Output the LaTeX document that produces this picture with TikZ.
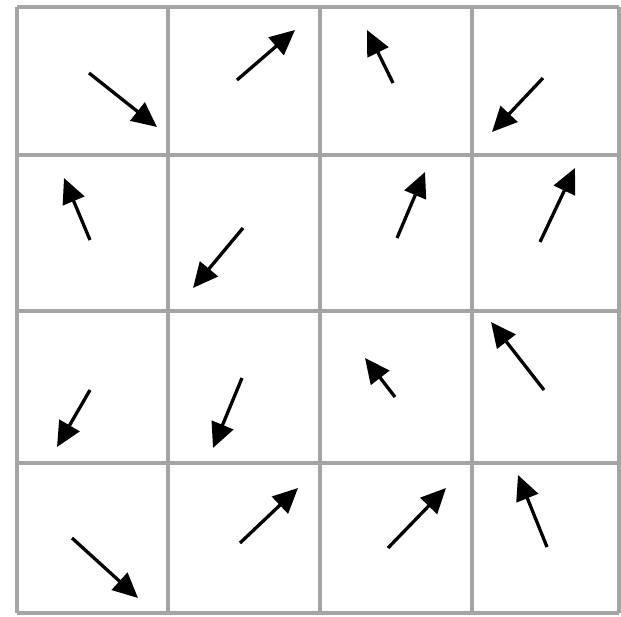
\documentclass[tikz,border=0pt]{standalone}
\usetikzlibrary{arrows.meta}
\definecolor{gridgray}{RGB}{165,165,165}
\tikzset{
  gridline/.style={draw=gridgray, line width=3.5pt},
  vec/.style={draw=black, line width=3.3pt, -{Triangle[length=25pt,width=23pt]}}
}
\begin{document}
\begin{tikzpicture}[x=1pt,y=-1pt]
\useasboundingbox (0,0) rectangle (621,616);
\fill[white] (0,0) rectangle (621,616);
% grid
\foreach \x in {17,168,320,472,619} \draw[gridline] (\x,7) -- (\x,613);
\foreach \y in {7,155,311,463,613} \draw[gridline] (17,\y) -- (619,\y);
% arrows: tail -- tip
\draw[vec] (89,73) -- (157,127);
\draw[vec] (237,80) -- (295,30);
\draw[vec] (393,83) -- (367,30);
\draw[vec] (543,78) -- (492,132);
\draw[vec] (90,240) -- (64,178);
\draw[vec] (243,228) -- (193,288);
\draw[vec] (397,238) -- (425,172);
\draw[vec] (540,242) -- (575,168);
\draw[vec] (90,390) -- (57,447);
\draw[vec] (242,378) -- (213,448);
\draw[vec] (395,397) -- (365,358);
\draw[vec] (544,390) -- (491,322);
\draw[vec] (72,538) -- (138,598);
\draw[vec] (240,543) -- (298,488);
\draw[vec] (388,548) -- (446,488);
\draw[vec] (547,547) -- (518,475);
\end{tikzpicture}
\end{document}
